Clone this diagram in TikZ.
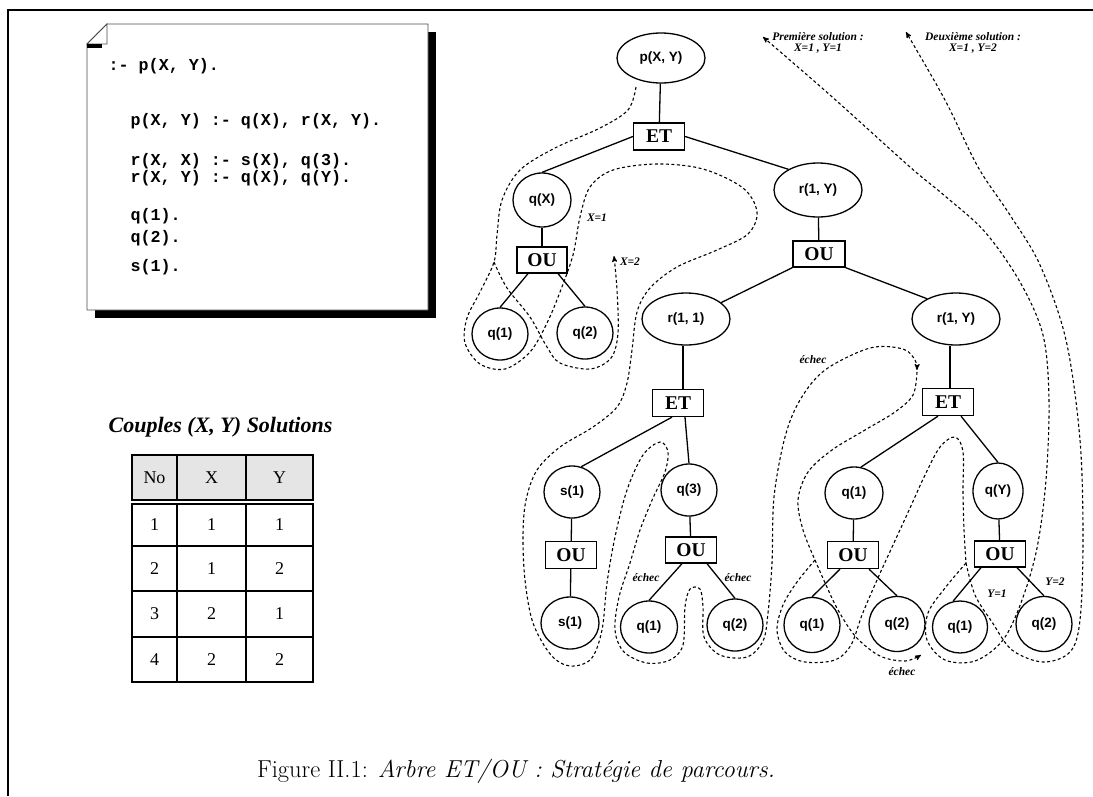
\documentclass[tikz,border=0pt]{standalone}
\usepackage{fontspec}
\usetikzlibrary{arrows,shapes.geometric}
\newfontfamily\helv{Liberation Sans}
\newfontfamily\tms{Liberation Serif}
\newfontfamily\cour{Liberation Mono}

\begin{document}
\begin{tikzpicture}[x=1pt,y=-1pt,>=stealth',line width=1.3pt,
    goal/.style 2 args={ellipse,draw,inner sep=0pt,minimum width=#1,minimum height=#2,
                        font=\helv\bfseries\fontsize{13.5}{13.5}\selectfont},
    conn/.style={rectangle,draw,inner sep=0pt,minimum width=51pt,minimum height=27pt,
                 font=\tms\bfseries\fontsize{19.5}{19.5}\selectfont},
    trace/.style={line width=1.1pt,dash pattern=on 3pt off 2.5pt},
    note/.style={font=\tms\bfseries\itshape\fontsize{11.5}{11}\selectfont,inner sep=0pt},
    code/.style={anchor=base west,inner sep=0pt,font=\cour\bfseries\fontsize{16.7}{16.7}\selectfont},
    cell/.style={font=\tms\fontsize{18}{18}\selectfont,inner sep=0pt}]
  \useasboundingbox (0,0) rectangle (1093,796);

  \draw[line width=2.2pt] (8,796) -- (8,10) -- (1093,10);

  % program
  \fill (95,32) rectangle (436,318);
  \fill[white] (85,22) -- (108,22) -- (85,46) -- cycle;
  \draw[fill=white,draw=black!70,line width=0.8pt]
    (107,24) -- (428,24) -- (428,310) -- (87,310) -- (87,44) -- cycle;
  \draw[fill=white,draw=black!70,line width=0.8pt] (107,24) -- (107,44) -- (87,44) -- cycle;
  \fill (87,44) rectangle (102,47.5);

  \node[code] (goalline) at (108,70)  {:- p(X, Y).};
  \node[code] (clauseP)  at (130,125) {p(X, Y) :- q(X), r(X, Y).};
  \node[code] (clauseRa) at (130,165) {r(X, X) :- s(X), q(3).};
  \node[code] (clauseRb) at (130,182) {r(X, Y) :- q(X), q(Y).};
  \node[code] (factQa)   at (130,220) {q(1).};
  \node[code] (factQb)   at (130,242) {q(2).};
  \node[code] (factS)    at (130,271) {s(1).};

  % solutions
  \node[font=\tms\bfseries\itshape\fontsize{22}{22}\selectfont] (soltitle) at (220.5,427)
    {Couples (X, Y) Solutions};
  \draw[fill=black!10,line width=1.2pt] (132,455) rectangle (313,500);
  \draw[line width=1.2pt] (177,455) -- (177,500) (246,455) -- (246,500);
  \draw[line width=1.2pt] (132,504) rectangle (313,682);
  \draw[line width=1.2pt] (177,504) -- (177,682) (246,504) -- (246,682)
    (132,546) -- (313,546) (132,591) -- (313,591) (132,637) -- (313,637);
  \node[cell] (hNo) at (154.5,477.5) {No};
  \node[cell] (hX)  at (211.5,477.5) {X};
  \node[cell] (hY)  at (279.5,477.5) {Y};
  \foreach \n/\a/\b/\y in {1/1/1/525, 2/1/2/568.5, 3/2/1/614, 4/2/2/659.5} {
    \node[cell] (no\n) at (154.5,\y) {\n};
    \node[cell] (x\n)  at (211.5,\y) {\a};
    \node[cell] (y\n)  at (279.5,\y) {\b};
  }

  % and/or tree
  \node[goal={88pt}{50pt}] (pXY)  at (661,58)  {p(X, Y)};
  \node[conn]              (et1)  at (659,136.5) {ET};
  \node[goal={58pt}{54pt}] (qX)   at (542,200) {q(X)};
  \node[goal={88pt}{54pt}] (r1Y)  at (818,190) {r(1, Y)};
  \node[conn,minimum width=50pt,minimum height=26pt] (ou1) at (542,260) {OU};
  \node[goal={56pt}{52pt}] (q1a)  at (500,334) {q(1)};
  \node[goal={56pt}{52pt}] (q2a)  at (585,333) {q(2)};
  \node[conn,minimum width=52pt,minimum height=26pt] (ou2) at (819,254) {OU};
  \node[goal={88pt}{52pt}] (r11)  at (686,319) {r(1, 1)};
  \node[goal={88pt}{52pt}] (r1Yb) at (956,319) {r(1, Y)};

  \node[conn]              (et2)  at (678,403) {ET};
  \node[goal={56pt}{52pt}] (s1a)  at (572,492) {s(1)};
  \node[goal={56pt}{52pt}] (q3)   at (689,490) {q(3)};
  \node[conn]              (ou3)  at (571,555) {OU};
  \node[goal={58pt}{52pt}] (s1b)  at (570,623) {s(1)};
  \node[conn,minimum height=26pt] (ou4) at (691,550) {OU};
  \node[goal={57pt}{52pt}] (q1b)  at (649,627) {q(1)};
  \node[goal={56pt}{52pt}] (q2b)  at (735,625) {q(2)};

  \node[conn]              (et3)  at (948,402) {ET};
  \node[goal={58pt}{52pt}] (q1c)  at (854,493) {q(1)};
  \node[goal={50pt}{56pt}] (qY)   at (998,491) {q(Y)};
  \node[conn]              (ou5)  at (853,555) {OU};
  \node[conn,minimum height=26pt] (ou6) at (1000,554) {OU};
  \node[goal={56pt}{55pt}] (q1d)  at (812,625) {q(1)};
  \node[goal={56pt}{55pt}] (q2d)  at (897,624) {q(2)};
  \node[goal={55pt}{52pt}] (q1e)  at (960,627) {q(1)};
  \node[goal={56pt}{55pt}] (q2e)  at (1044,624) {q(2)};

  \draw (pXY) -- (et1);
  \draw (et1.west) -- (qX.north);
  \draw (et1.east) -- (r1Y.145);
  \draw (qX) -- (ou1);
  \draw ([xshift=-14pt]ou1.south) -- (q1a.north);
  \draw ([xshift=16pt]ou1.south) -- (q2a.north);
  \draw (r1Y) -- (ou2);
  \draw (ou2.south west) -- (r11.25);
  \draw (ou2.south east) -- (r1Yb.145);
  \draw ([xshift=-3pt]r11.south) -- ([xshift=5pt]et2.north);
  \draw ([xshift=-6pt]et2.south) -- (s1a.70);
  \draw ([xshift=7pt]et2.south) -- (q3.north);
  \draw (s1a) -- (ou3);
  \draw (ou3) -- (s1b);
  \draw (q3) -- (ou4);
  \draw ([xshift=-9pt]ou4.south) -- (q1b.north);
  \draw ([xshift=16pt]ou4.south) -- (q2b.north);
  \draw ([xshift=-6pt]r1Yb.south) -- ([xshift=2pt]et3.north);
  \draw ([xshift=-10pt]et3.south) -- (q1c.75);
  \draw ([xshift=13pt]et3.south) -- (qY.north);
  \draw (q1c) -- (ou5);
  \draw (qY) -- (ou6);
  \draw ([xshift=-13pt]ou5.south) -- (q1d.north);
  \draw ([xshift=16pt]ou5.south) -- (q2d.north);
  \draw ([xshift=-19pt]ou6.south) -- (q1e.105);
  \draw ([xshift=17pt]ou6.south) -- (q2e.north);

  % search
  \draw[trace,->] plot[smooth,tension=0.55] coordinates {
    (636,87) (628,110) (600,128) (555,148) (520,170) (502,200) (497,235) (494,262)
    (480,292) (467,318) (465,343) (480,364) (505,369) (530,352) (547,323) (560,292)
    (573,255) (580,217) (590,187) (613,170) (657,164) (703,169) (743,188) (757,212)
    (748,234) (717,250) (677,267) (650,288) (637,312) (632,350) (627,383) (617,407)
    (593,427) (560,447) (537,470) (526,500) (523,535) (525,580) (533,623) (551,655)
    (570,666) (591,659) (602,630) (607,583) (615,537) (627,490) (643,455) (660,442)
    (668,452) (665,472) (653,498) (640,530) (630,563) (619,597) (615,630) (624,652)
    (647,663) (670,660) (683,645) (685,607) (690,589) (700,589) (703,607) (704,637)
    (720,655) (747,657) (763,641) (768,613) (772,563) (774,497) (785,437) (800,400)
    (825,370) (870,348) (903,349) (915,360) (917,370)};
  \draw[trace,->] plot[smooth,tension=0.55] coordinates {
    (494,262) (507,288) (530,317) (547,347) (560,363) (590,369) (611,358) (618,333)
    (617,290) (614,256)};
  \draw[trace] plot[smooth,tension=0.55] coordinates {
    (917,372) (913,395) (895,412) (865,430) (832,450) (808,472) (798,500) (803,530)
    (815,560)};
  \draw[trace] plot[smooth,tension=0.55] coordinates {
    (815,560) (797,582) (783,605) (777,630) (785,652) (805,662) (835,660) (851,645)
    (862,615) (877,580) (893,545) (910,508) (925,475) (940,447) (955,437) (963,452)
    (963,492) (964,530) (966,563)};
  \draw[trace,->] plot[smooth,tension=0.55] coordinates {
    (815,560) (826,585) (838,610) (856,637) (880,656) (905,661) (921,655)};
  \draw[trace,->] plot[smooth,tension=0.55] coordinates {
    (966,563) (945,588) (928,613) (927,640) (945,660) (975,661) (1003,640) (1022,600)
    (1037,548) (1046,480) (1049,400) (1043,335) (1020,282) (985,232) (945,196)
    (910,167) (830,95) (763,37)};
  \draw[trace,->] plot[smooth,tension=0.55] coordinates {
    (966,563) (975,595) (992,622) (1012,650) (1043,662) (1070,652) (1080,620)
    (1083,540) (1080,440) (1066,340) (1040,265) (1010,215) (978,167) (945,100)
    (906,32)};

  \node[note] (lx1) at (597,218) {X=1};
  \node[note] (lx2) at (630,262) {X=2};
  \node[note] (fail1) at (646,578) {échec};
  \node[note] (fail2) at (738,578) {échec};
  \node[note] (fail3) at (813,360) {échec};
  \node[note] (fail4) at (902,672) {échec};
  \node[note] (ly1) at (997,594) {Y=1};
  \node[note] (ly2) at (1055,582) {Y=2};
  \node[note,align=center] (sol1) at (818,43) {Première solution :\\X=1 , Y=1};
  \node[note,align=center] (sol2) at (973,43) {Deuxième solution :\\X=1 , Y=2};

  \node[font=\fontsize{24.5}{24.5}\selectfont] (caption) at (516,771)
    {Figure II.1: \textit{Arbre ET/OU : Stratégie de parcours.}};
\end{tikzpicture}
\end{document}
